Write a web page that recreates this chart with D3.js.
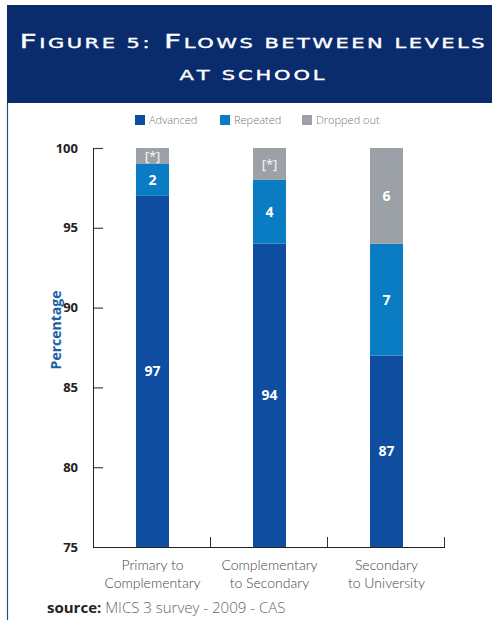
<!DOCTYPE html>
<html>
<head>
<meta charset="utf-8">
<script src="https://cdn.jsdelivr.net/npm/d3@7"></script>
<style>
  html, body { margin: 0; padding: 0; background: #fff; }
  svg { display: block; }
</style>
</head>
<body>
<svg id="chart" width="492" height="620"></svg>
<script>
// Flows between school levels (MICS 3, 2009)
const categories = [
  ["Primary to", "Complementary"],
  ["Complementary", "to Secondary"],
  ["Secondary", "to University"]
];
const seriesNames = ["Advanced", "Repeated", "Dropped out"];
const advanced = [97, 94, 87];
const repeated = [2, 4, 7];
const droppedOut = [1, 2, 6];
const droppedLabels = ["[*]", "[*]", "6"];
const yTicks = [75, 80, 85, 90, 95, 100];
const colors = ["#0e4d9f", "#0a7cc3", "#9ba1a7"];

const svg = d3.select("#chart");

// Header band
svg.append("rect").attr("x", 7).attr("y", 5).attr("width", 485).attr("height", 98)
  .attr("fill", "#0a2c6c");
svg.append("line").attr("x1", 7.5).attr("x2", 7.5).attr("y1", 103).attr("y2", 620)
  .attr("stroke", "#2a4b8a").attr("stroke-width", 1.2);

// Small-caps title, widened horizontally
const stretch = 1.5;
function smallCapsLine(y, words, length) {
  const t = svg.append("text")
    .attr("transform", `translate(252,${y}) scale(${stretch},1)`)
    .attr("text-anchor", "middle")
    .attr("fill", "#fff")
    .attr("stroke", "#fff")
    .attr("stroke-width", 0.35)
    .attr("font-family", "'DejaVu Sans', sans-serif")
    .attr("font-weight", "normal")
    .attr("textLength", length / stretch)
    .attr("lengthAdjust", "spacing");
  words.forEach((w, i) => {
    const first = w[0], rest = w.slice(1);
    const isCap = /[A-Z]/.test(first);
    t.append("tspan").attr("font-size", isCap ? 20 : 14).text((i ? " " : "") + first.toUpperCase());
    if (rest) t.append("tspan").attr("font-size", 14).text(rest.toUpperCase());
  });
}
smallCapsLine(48, ["Figure", "5:", "Flows", "between", "levels"], 465);
smallCapsLine(80, ["at", "school"], 145);

// Plot geometry
const margin = { left: 94, top: 148, right: 445, bottom: 547 };
const x = d3.scaleBand().domain(d3.range(categories.length))
  .range([margin.left, margin.right]).paddingInner(0).paddingOuter(0);
const y = d3.scaleLinear().domain([75, 100]).range([margin.bottom, margin.top]);
const barW = 33;

// Stack the series
const rows = categories.map((c, i) => ({
  Advanced: advanced[i], Repeated: repeated[i], "Dropped out": droppedOut[i]
}));
const stack = d3.stack().keys(seriesNames)(rows);

const labelsBySeries = [
  advanced.map(String),
  repeated.map(String),
  droppedLabels
];

stack.forEach((layer, si) => {
  const g = svg.append("g");
  layer.forEach((d, ci) => {
    const lo = Math.max(d[0], 75), hi = d[1];
    const cx = x(ci) + x.bandwidth() / 2;
    g.append("rect")
      .attr("x", cx - barW / 2)
      .attr("y", y(hi))
      .attr("width", barW)
      .attr("height", y(lo) - y(hi))
      .attr("fill", colors[si]);
    const lab = labelsBySeries[si][ci];
    const star = lab === "[*]";
    g.append("text")
      .attr("x", cx)
      .attr("y", (y(lo) + y(hi)) / 2)
      .attr("dy", "0.36em")
      .attr("text-anchor", "middle")
      .attr("font-family", "'Open Sans', sans-serif")
      .attr("font-weight", star ? 600 : 700)
      .attr("font-size", star ? 13 : 14)
      .attr("fill", star ? "#eceef0" : "#fff")
      .text(lab);
  });
});

// Y axis
const yAxis = d3.axisLeft(y).tickValues(yTicks).tickSize(-9).tickPadding(16);
const gy = svg.append("g").attr("transform", `translate(${margin.left},0)`).call(yAxis);
gy.select(".domain").attr("stroke", "#222").attr("d", `M-0.5,${margin.top}V${margin.bottom}`);
gy.selectAll(".tick line").attr("stroke", "#444").attr("stroke-width", 1.2);
gy.selectAll(".tick text")
  .attr("font-family", "'Open Sans', sans-serif")
  .attr("font-weight", 700)
  .attr("font-size", 13)
  .attr("fill", "#222");
gy.selectAll(".tick").filter(d => d === 75).select("line").remove();

// X axis: bottom line with separators at band edges
svg.append("line").attr("x1", margin.left - 1).attr("x2", margin.right)
  .attr("y1", margin.bottom + 0.5).attr("y2", margin.bottom + 0.5)
  .attr("stroke", "#222");
svg.append("g").selectAll("line")
  .data(d3.range(1, categories.length + 1))
  .join("line")
  .attr("x1", i => x(i - 1) + x.bandwidth() - 0.5)
  .attr("x2", i => x(i - 1) + x.bandwidth() - 0.5)
  .attr("y1", margin.bottom - 10)
  .attr("y2", margin.bottom)
  .attr("stroke", "#333");

// Category labels, two lines each
const catG = svg.append("g");
categories.forEach((lines, i) => {
  lines.forEach((line, j) => {
    catG.append("text")
      .attr("x", x(i) + x.bandwidth() / 2)
      .attr("y", 570 + j * 18)
      .attr("text-anchor", "middle")
      .attr("font-family", "Lato, sans-serif")
      .attr("font-weight", 300)
      .attr("font-size", 14)
      .attr("fill", "#444")
      .text(line);
  });
});

// Y axis title
svg.append("text")
  .attr("transform", "translate(61,330) rotate(-90)")
  .attr("text-anchor", "middle")
  .attr("font-family", "'Open Sans', sans-serif")
  .attr("font-weight", 700)
  .attr("font-size", 14)
  .attr("fill", "#1b5fa8")
  .text("Percentage");

// Legend
const legendX = [135, 220, 302];
const lg = svg.append("g").selectAll("g").data(seriesNames).join("g")
  .attr("transform", (d, i) => `translate(${legendX[i]},115)`);
lg.append("rect").attr("width", 10).attr("height", 10).attr("fill", (d, i) => colors[i]);
lg.append("text").attr("x", 14).attr("y", 5).attr("dy", "0.35em")
  .attr("font-family", "'Open Sans', sans-serif")
  .attr("font-weight", 300)
  .attr("font-size", 11)
  .attr("fill", "#777")
  .text(d => d);

// Source line
const src = svg.append("text").attr("x", 47).attr("y", 613)
  .attr("font-family", "'Open Sans', sans-serif").attr("font-size", 15);
src.append("tspan").attr("font-weight", 700).attr("fill", "#222").text("source:");
src.append("tspan").attr("font-weight", 300).attr("fill", "#666").text(" MICS 3 survey - 2009 - CAS");
</script>
</body>
</html>
